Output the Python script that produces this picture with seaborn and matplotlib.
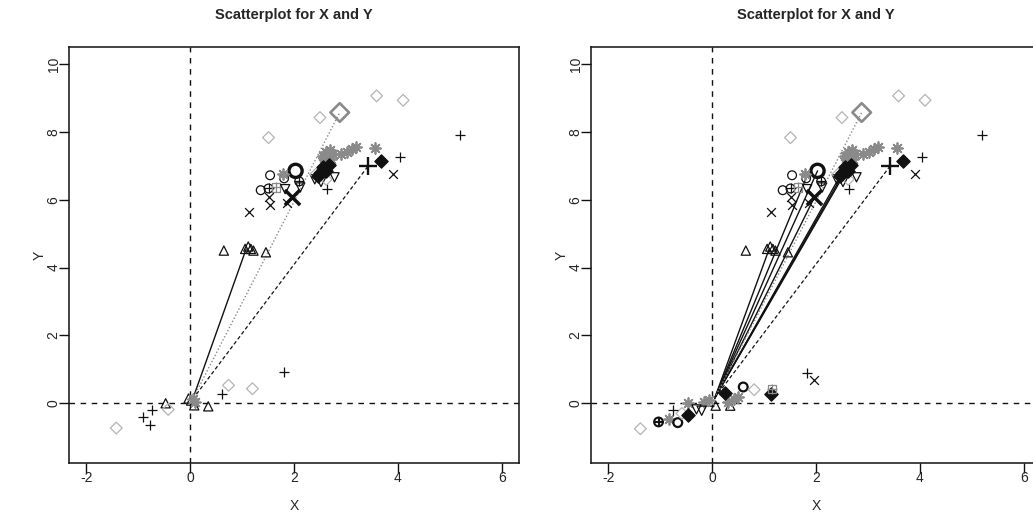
import numpy as np
import pandas as pd
import matplotlib
matplotlib.use("Agg")
import matplotlib.pyplot as plt
from matplotlib.markers import MarkerStyle
import seaborn as sns

sns.set_style("ticks")
plt.rcParams['font.family'] = ['Liberation Sans', 'DejaVu Sans']

# ---------------- data ----------------
# Upper points shared by both panels
up_tri_x = [0.65, 1.06, 1.12, 1.17, 1.22, 1.46]
up_tri_y = [4.50, 4.55, 4.62, 4.55, 4.50, 4.45]
up_circ_x = [1.54, 1.81, 1.36]
up_circ_y = [6.72, 6.63, 6.28]
up_bcirc_x = [2.03]
up_bcirc_y = [6.85]
up_oplus_x = [2.10, 1.51]
up_oplus_y = [6.54, 6.33]
up_boxplus_x = [1.66]
up_boxplus_y = [6.36]
up_vtri_x = [1.83, 2.12, 2.40, 2.78, 2.52]
up_vtri_y = [6.31, 6.36, 6.60, 6.66, 6.52]
up_x_x = [1.51, 1.53, 1.86, 1.13, 3.91]
up_x_y = [6.07, 5.85, 5.90, 5.63, 6.75]
up_bx_x = [1.97]
up_bx_y = [6.07]
up_plus_x = [4.04, 2.63, 5.20]
up_plus_y = [7.25, 6.31, 7.92]
up_bplus_x = [3.43]
up_bplus_y = [7.00]
up_gdiam_x = [3.59, 4.10, 2.50, 1.51, 2.42, 2.62]
up_gdiam_y = [9.06, 8.93, 8.42, 7.83, 6.75, 6.60]
up_bgdiam_x = [2.88]
up_bgdiam_y = [8.57]
up_gast_x = [1.78, 2.56, 2.62, 2.69, 2.76, 2.58, 2.72, 3.20, 3.12, 3.02, 2.90, 3.55]
up_gast_y = [6.77, 7.30, 7.40, 7.45, 7.35, 7.22, 7.20, 7.55, 7.48, 7.42, 7.35, 7.53]
up_bdiam_x = [3.68, 2.56, 2.62, 2.68, 2.50, 2.46]
up_bdiam_y = [7.15, 6.95, 6.85, 7.02, 6.80, 6.70]

# Lower points, left panel
L_tri_x = [-0.03, 0.08, 0.35, -0.47, 0.02]
L_tri_y = [0.14, -0.06, -0.09, 0.00, 0.08]
L_plus_x = [1.80, 0.62, -0.74, -0.90, -0.78]
L_plus_y = [0.92, 0.26, -0.19, -0.40, -0.63]
L_gdiam_x = [0.74, 1.20, -1.42, -0.42]
L_gdiam_y = [0.53, 0.43, -0.73, -0.18]
L_gast_x = [0.05, 0.10]
L_gast_y = [0.12, 0.05]

# Lower points, right panel
R_tri_x = [0.07, 0.35, -0.05]
R_tri_y = [-0.07, -0.07, 0.05]
R_oplus_x = [-1.03]
R_oplus_y = [-0.55]
R_gast_x = [-0.82, -0.47, -0.15, -0.05, 0.30, 0.42, 0.50]
R_gast_y = [-0.45, 0.00, 0.04, 0.10, 0.05, 0.12, 0.18]
R_circ_x = [-0.66, 0.60]
R_circ_y = [-0.57, 0.48]
R_gdiam_x = [-1.38, 0.81, -0.58]
R_gdiam_y = [-0.75, 0.40, -0.30]
R_plus_x = [-0.75, 1.83]
R_plus_y = [-0.20, 0.89]
R_x_x = [1.96]
R_x_y = [0.70]
R_bdiam_x = [-0.46, 0.25, 1.13]
R_bdiam_y = [-0.35, 0.30, 0.26]
R_vtri_x = [-0.30, -0.20]
R_vtri_y = [-0.18, -0.22]
R_boxplus_x = [1.15]
R_boxplus_y = [0.42]

# Segments from the origin point
L_origin = (0.05, 0.12)
L_end_x = [1.08, 2.88, 3.43]
L_end_y = [4.55, 8.57, 7.00]
L_kind = ["solid", "dotted", "dashed"]

R_origin = (0.05, 0.15)
R_end_x = [1.10, 1.81, 2.03, 1.97, 2.52, 2.58, 2.63, 2.88, 3.43]
R_end_y = [4.55, 6.63, 6.85, 6.07, 6.85, 6.92, 6.98, 8.57, 7.00]
R_kind = ["solid", "solid", "solid", "solid", "solid", "solid", "solid",
          "dotted", "dashed"]

x_ticks = [-2, 0, 2, 4, 6]
y_ticks = [0, 2, 4, 6, 8, 10]
title_text = "Scatterplot for X and Y"

# ---------------- styles ----------------
BLACK = "#111111"
GREY = "#8a8a8a"
LGREY = "#b4b4b4"
hollow = lambda m: MarkerStyle(m, fillstyle="none")

def pts(ax, xs, ys, marker, color, s=44, lw=0.9, **kw):
    sns.scatterplot(x=np.asarray(xs, float), y=np.asarray(ys, float), ax=ax,
                    marker=marker, color=color, s=s, linewidth=lw,
                    legend=False, zorder=3, **kw)

def draw_upper(ax):
    pts(ax, up_tri_x, up_tri_y, hollow("^"), BLACK)
    pts(ax, up_circ_x, up_circ_y, hollow("o"), BLACK, s=40)
    pts(ax, up_bcirc_x, up_bcirc_y, hollow("o"), BLACK, s=90, lw=2.4)
    pts(ax, up_oplus_x, up_oplus_y, hollow("o"), BLACK, s=40)
    pts(ax, up_oplus_x, up_oplus_y, "+", BLACK, s=50)
    pts(ax, up_boxplus_x, up_boxplus_y, hollow("s"), GREY, s=34)
    pts(ax, up_boxplus_x, up_boxplus_y, "+", GREY, s=44)
    pts(ax, up_vtri_x, up_vtri_y, hollow("v"), BLACK)
    pts(ax, up_x_x, up_x_y, "x", BLACK, s=40)
    pts(ax, up_bx_x, up_bx_y, "x", BLACK, s=120, lw=2.5)
    pts(ax, up_plus_x, up_plus_y, "+", BLACK, s=46)
    pts(ax, up_bplus_x, up_bplus_y, "+", BLACK, s=160, lw=1.7)
    pts(ax, up_gdiam_x, up_gdiam_y, hollow("D"), LGREY, s=36)
    pts(ax, up_bgdiam_x, up_bgdiam_y, hollow("D"), GREY, s=90, lw=1.9)
    pts(ax, up_gast_x, up_gast_y, (8, 2, 0), GREY, s=60, lw=1.3)
    pts(ax, up_bdiam_x, up_bdiam_y, "D", BLACK, s=46, edgecolor=BLACK)

def setup(ax, origin, ex, ey, kinds):
    ax.axvline(0, color=BLACK, lw=1.0, ls=(0, (4, 4)), zorder=1)
    ax.axhline(0, color=BLACK, lw=1.0, ls=(0, (4, 4)), zorder=1)
    for x1, y1, k in zip(ex, ey, kinds):
        if k == "solid":
            ax.plot([origin[0], x1], [origin[1], y1], color=BLACK, lw=1.0, zorder=2)
        elif k == "dotted":
            ax.plot([origin[0], x1], [origin[1], y1], color=GREY, lw=1.0,
                    ls=(0, (1, 1.5)), zorder=2)
        else:
            ax.plot([origin[0], x1], [origin[1], y1], color=BLACK, lw=0.9,
                    ls=(0, (3, 2)), zorder=2)
    ax.set_xlim(-2.33, 6.33)
    ax.set_ylim(-1.76, 10.5)
    ax.set_xticks(x_ticks)
    ax.set_yticks(y_ticks)
    ax.set_xticklabels([str(v) for v in x_ticks], fontsize=10)
    ax.set_yticklabels([str(v) for v in y_ticks], fontsize=10, rotation=90, va="center")
    ax.tick_params(axis="both", length=7, width=1, color=BLACK)
    ax.tick_params(axis="x", pad=-1)
    ax.tick_params(axis="y", pad=-1)
    for sp in ax.spines.values():
        sp.set_visible(True)
        sp.set_linewidth(1.1)
        sp.set_color(BLACK)
    ax.set_xlabel("X", fontsize=10, labelpad=10)
    ax.set_ylabel("Y", fontsize=10, labelpad=0)
    ax.set_title(title_text, fontsize=10.5, fontweight="bold", pad=20)

fig = plt.figure(figsize=(10.33, 5.12), dpi=100)
axL = fig.add_axes([0.0668, 0.0957, 0.4356, 0.8125])
axR = fig.add_axes([0.5721, 0.0957, 0.4356, 0.8125])

# Left panel
setup(axL, L_origin, L_end_x, L_end_y, L_kind)
draw_upper(axL)
pts(axL, L_tri_x, L_tri_y, hollow("^"), BLACK)
pts(axL, L_plus_x, L_plus_y, "+", BLACK, s=46)
pts(axL, L_gdiam_x, L_gdiam_y, hollow("D"), LGREY, s=36)
pts(axL, L_gast_x, L_gast_y, (8, 2, 0), GREY, s=60, lw=1.3)

# Right panel
setup(axR, R_origin, R_end_x, R_end_y, R_kind)
draw_upper(axR)
pts(axR, R_tri_x, R_tri_y, hollow("^"), BLACK)
pts(axR, R_oplus_x, R_oplus_y, hollow("o"), BLACK, s=40, lw=1.5)
pts(axR, R_oplus_x, R_oplus_y, "+", BLACK, s=50, lw=1.5)
pts(axR, R_gast_x, R_gast_y, (8, 2, 0), GREY, s=60, lw=1.3)
pts(axR, R_circ_x, R_circ_y, hollow("o"), BLACK, s=40, lw=1.6)
pts(axR, R_gdiam_x, R_gdiam_y, hollow("D"), LGREY, s=36)
pts(axR, R_plus_x, R_plus_y, "+", BLACK, s=46)
pts(axR, R_x_x, R_x_y, "x", BLACK, s=40)
pts(axR, R_bdiam_x, R_bdiam_y, "D", BLACK, s=46, edgecolor=BLACK)
pts(axR, R_vtri_x, R_vtri_y, hollow("v"), BLACK)
pts(axR, R_boxplus_x, R_boxplus_y, hollow("s"), GREY, s=34)
pts(axR, R_boxplus_x, R_boxplus_y, "+", GREY, s=44)

fig.savefig("out.png", dpi=100)
